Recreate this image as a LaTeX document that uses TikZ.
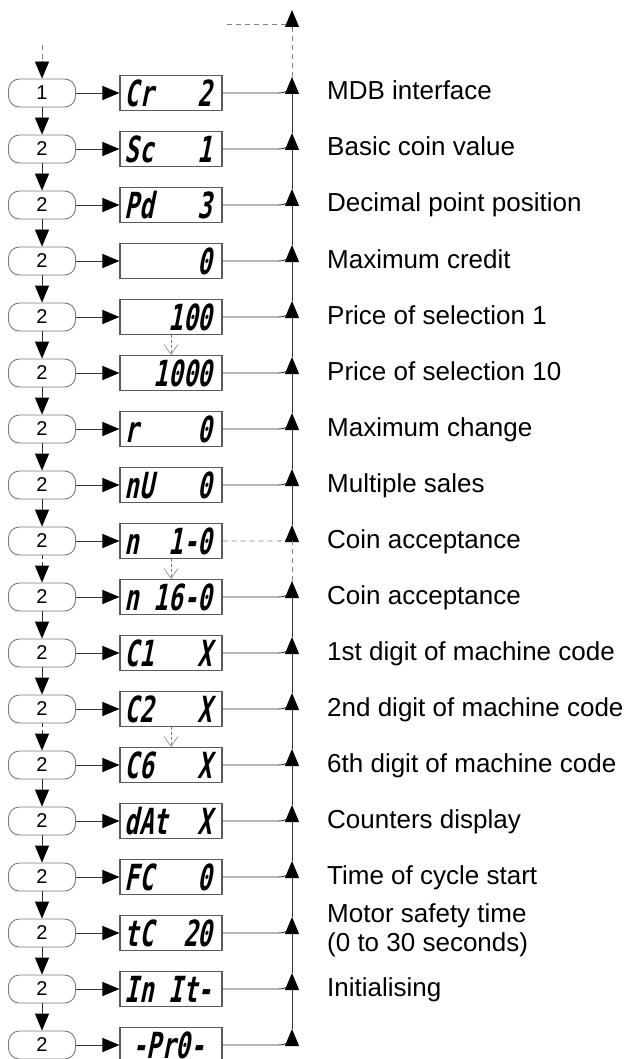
\documentclass[tikz,border=0pt]{standalone}
\usepackage{fontspec}
\setmainfont{Liberation Sans}
\newfontfamily\segfont{DejaVu Sans Mono}[FakeStretch=0.67,FakeSlant=0.2]
\usetikzlibrary{arrows.meta,calc}
\definecolor{lineC}{RGB}{50,50,50}
\definecolor{keyC}{RGB}{120,120,120}
\definecolor{dispC}{RGB}{90,90,90}
\definecolor{dashC}{RGB}{130,130,130}
\newcommand\segsp{\hphantom{0}}
\tikzset{
  keybox/.style={rectangle, rounded corners=11pt, draw=keyC, line width=0.9pt,
                 minimum width=67pt, minimum height=28pt, inner sep=0pt,
                 font=\fontsize{20}{22}\selectfont},
  dispbox/.style={rectangle, draw=dispC, line width=1.1pt, minimum width=102pt,
                  minimum height=35pt, inner sep=0pt,
                  font=\segfont\bfseries\fontsize{36}{36}\selectfont},
  desc/.style={anchor=base west, inner sep=0pt, align=left,
               font=\fontsize{26}{29}\selectfont},
  link/.style={lineC, line width=0.9pt},
  flow/.style={link, -{Triangle[length=17pt,width=14pt,black]}},
  gapline/.style={dashC, dash pattern=on 5pt off 4pt},
  skip/.style={dashC, line width=0.6pt, dash pattern=on 3pt off 2pt,
               -{Straight Barb[length=10pt,width=14pt]}},
}

\begin{document}
\begin{tikzpicture}[x=1pt, y=-1pt]
  \useasboundingbox (0,0) rectangle (628,1059);
  % Rows: key, display and arrow on the return line
  \foreach \i/\key/\seg in {
      1/1/{Cr\segsp\segsp\segsp2},
      2/2/{Sc\segsp\segsp\segsp1},
      3/2/{Pd\segsp\segsp\segsp3},
      4/2/{\segsp\segsp\segsp\segsp\segsp0},
      5/2/{\segsp\segsp\segsp100},
      6/2/{\segsp\segsp1000},
      7/2/{r\segsp\segsp\segsp\segsp0},
      8/2/{nU\segsp\segsp\segsp0},
      9/2/{n\segsp\segsp1-0},
      10/2/{n\segsp16-0},
      11/2/{C1\segsp\segsp\segsp X},
      12/2/{C2\segsp\segsp\segsp X},
      13/2/{C6\segsp\segsp\segsp X},
      14/2/{dAt\segsp\segsp X},
      15/2/{FC\segsp\segsp\segsp0},
      16/2/{tC\segsp\segsp20},
      17/2/{In\segsp It-},
      18/2/{-Pr0-}} {
    \pgfmathsetmacro\y{93+(\i-1)*56.0}
    \node[keybox] (k\i) at (42,\y) {\key};
    \node[dispbox] (d\i) at (171,\y) {\seg\kern5pt};
    \coordinate (b\i) at (292,\y);
    \coordinate (h\i) at (292,\y-16);
    \draw[flow] (k\i) -- (d\i);
    \ifnum\i=9
      \draw[link, gapline] (d\i.east) -- ($(b\i)+(-14,0)$) .. controls ($(b\i)+(-7,0)$) and ($(b\i)+(-3,-2)$) .. ($(b\i)+(0,-6)$);
    \else
      \draw[link] (d\i.east) -- ($(b\i)+(-14,0)$) .. controls ($(b\i)+(-7,0)$) and ($(b\i)+(-3,-2)$) .. ($(b\i)+(0,-6)$);
    \fi
    \draw[flow] (b\i) -- (h\i);
  }
  % Descriptions
  \foreach \i/\txt in {1/MDB interface, 2/Basic coin value,
      3/Decimal point position, 4/Maximum credit, 5/Price of selection 1,
      6/Price of selection 10, 7/Maximum change, 8/Multiple sales,
      9/Coin acceptance, 10/Coin acceptance, 11/1st digit of machine code,
      12/2nd digit of machine code, 13/6th digit of machine code,
      14/Counters display, 15/Time of cycle start, 17/Initialising} {
    \node[desc] (l\i) at ($(b\i)+(35,7)$) {\txt};
  }
  \node[desc, anchor=west] (l16) at ($(b16)+(35,-3)$) {Motor safety time\\(0 to 30 seconds)};
  % Key sequence
  \coordinate (entry) at (42,45);
  \coordinate (entryhead) at (42,61);
  \draw[link, gapline] (entry) -- (entryhead);
  \draw[flow] (entryhead) -- (k1);
  \foreach \i [evaluate=\i as \j using int(\i+1)] in {1,...,8,10,11,13,14,...,17} {
    \draw[flow] (k\i) -- (k\j);
  }
  \draw[flow, dash pattern=on 4pt off 3pt] (k9) -- (k10);
  \draw[flow, dash pattern=on 4pt off 3pt] (k12) -- (k13);
  % Skipped displays
  \draw[skip] (d5) -- (d6);
  \draw[skip] (d9) -- (d10);
  \draw[skip] (d12) -- (d13);
  % Return line
  \foreach \i [evaluate=\i as \j using int(\i+1)] in {1,...,8,10,11,...,17} {
    \draw[link] (h\j) -- (b\i);
  }
  \draw[link, gapline] (h10) -- (b9);
  \coordinate (topbase) at (292,27);
  \coordinate (toptip) at (292,10);
  \coordinate (topfeed) at (227,24);
  \coordinate (topjoin) at (286,24);
  \draw[link, gapline] (h1) -- (topbase);
  \draw[flow] (topbase) -- (toptip);
  \draw[link, gapline] (topfeed) -- (topjoin);
\end{tikzpicture}
\end{document}
